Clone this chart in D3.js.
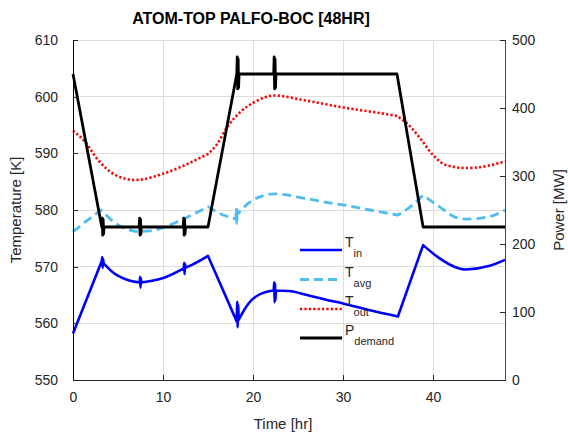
<!DOCTYPE html>
<html>
<head>
<meta charset="utf-8">
<style>
  body { margin: 0; background: #fff; }
  svg text { font-family: "Liberation Sans", Arial, sans-serif; fill: #262626; }
  .grid line { stroke: #dedede; stroke-width: 1; shape-rendering: crispEdges; }
  .axis path { display: none; }
  .axis line { stroke: #262626; shape-rendering: crispEdges; }
  .series { fill: none; }
</style>
</head>
<body>
<svg width="568" height="435"></svg>
<script src="https://d3js.org/d3.v7.min.js"></script>
<script>
// tick values
var timeTicks = [0, 10, 20, 30, 40];
var tempTicks = [550, 560, 570, 580, 590, 600, 610];
var powerTicks = [0, 100, 200, 300, 400, 500];

// each series: list of pieces, [time hr, value]; small zig-zags are the transient spikes
var tInSegments = [
  [[0, 558.2], [3.2, 571.0]],
  [[3.2, 571.0], [3.25, 571.7], [3.3, 569.8], [3.35, 571.4], [3.4, 570.6]],
  [[3.4, 570.6], [4.6, 568.8], [6.0, 567.7], [7.4, 567.2]],
  [[7.4, 567.2], [7.45, 568.2], [7.5, 566.3], [7.55, 568.0], [7.6, 567.2]],
  [[7.6, 567.2], [8.8, 567.5], [10.2, 568.1], [12.3, 569.7]],
  [[12.3, 569.7], [12.35, 570.7], [12.4, 568.7], [12.45, 570.5], [12.5, 569.8]],
  [[12.5, 569.8], [13.8, 570.8], [15.0, 571.9]],
  [[15.0, 571.9], [18.2, 560.3]],
  [[18.2, 560.3], [18.25, 563.8], [18.3, 559.3], [18.35, 563.3], [18.4, 560.6]],
  [[18.4, 560.6], [19.0, 562.3], [19.5, 563.5], [20.6, 565.0], [22.3, 565.8]],
  [[22.3, 565.8], [22.35, 567.3], [22.4, 563.7], [22.45, 567.1], [22.5, 564.0], [22.55, 565.8]],
  [[22.55, 565.8], [24.0, 565.7], [26.0, 565.0], [28.0, 564.2], [30.0, 563.5], [33.0, 562.3], [36.1, 561.2]],
  [[36.1, 561.2], [38.9, 573.8]],
  [[38.9, 573.8], [40.7, 571.5], [42.5, 569.9], [43.6, 569.5], [46.2, 570.1], [48, 571.2]]
];

var tAvgSegments = [
  [[0, 576.2], [3.1, 580.0]],
  [[3.1, 580.0], [4.7, 577.7], [6.0, 576.6], [7.3, 576.2], [8.5, 576.3], [10.2, 577.0], [12.4, 578.5], [15.0, 580.6]],
  [[15.0, 580.6], [16.3, 579.4], [18.1, 578.4]],
  [[18.1, 578.4], [18.15, 580.3], [18.2, 577.6], [18.25, 580.0], [18.3, 579.3]],
  [[18.3, 579.3], [19.5, 581.2], [21.3, 582.6], [22.4, 582.85], [25.8, 582.05], [28.7, 581.2], [30.0, 580.9], [33.0, 580.0], [36.1, 579.1]],
  [[36.1, 579.1], [37.5, 580.6], [38.9, 582.6]],
  [[38.9, 582.6], [40.7, 580.6], [42.5, 578.7], [43.6, 578.4], [46.2, 578.8], [48, 580.0]]
];

var tOutSegments = [
  [[0, 594.0], [1.33, 592.05], [2.8, 588.8], [4.7, 586.2], [6.9, 585.3], [10.2, 586.5], [12.4, 587.9], [15.0, 589.9]],
  [[15.0, 589.9], [16.0, 591.6], [17.0, 594.3], [18.6, 597.3], [20.0, 598.9], [22.4, 600.2], [25.6, 599.4], [30.0, 598.1], [34.1, 597.1], [36.0, 596.6]],
  [[36.0, 596.6], [37.1, 595.3], [38.6, 592.6], [40.0, 589.7], [41.5, 587.9], [43.7, 587.4], [47.8, 588.5], [48, 588.6]]
];

var powerSegments = [
  [[0, 450], [3.2, 225], [3.25, 238], [3.3, 213], [3.35, 236], [3.4, 215], [3.45, 225],
   [7.35, 225], [7.4, 238], [7.45, 213], [7.5, 236], [7.55, 215], [7.6, 225],
   [12.25, 225], [12.3, 238], [12.35, 213], [12.4, 236], [12.45, 215], [12.5, 225],
   [15, 225], [18.2, 450], [18.25, 475], [18.3, 428], [18.35, 472], [18.4, 430], [18.45, 450],
   [22.3, 450], [22.35, 475], [22.4, 428], [22.45, 472], [22.5, 430], [22.55, 450],
   [36, 450], [38.9, 225], [48, 225]]
];

var legendMain = ["T", "T", "T", "P"];
var legendSub = ["in", "avg", "out", "demand"];

var svg = d3.select("svg");

var x = d3.scaleLinear().domain([0, 48]).range([73, 505]);
var yT = d3.scaleLinear().domain([550, 610]).range([380, 40]);
var yP = d3.scaleLinear().domain([0, 500]).range([380, 40]);

// grid
var grid = svg.append("g").attr("class", "grid");
grid.selectAll(".gx").data(timeTicks.filter(function(d) { return d > 0; }))
  .enter().append("line")
  .attr("x1", function(d) { return x(d); }).attr("x2", function(d) { return x(d); })
  .attr("y1", 40).attr("y2", 380);
grid.selectAll(".gy").data(tempTicks.filter(function(d) { return d > 550; }))
  .enter().append("line")
  .attr("x1", 73).attr("x2", 505)
  .attr("y1", function(d) { return yT(d); }).attr("y2", function(d) { return yT(d); });

// series
function joined(segs, y, curve) {
  var line = d3.line()
    .x(function(d) { return x(d[0]); })
    .y(function(d) { return y(d[1]); })
    .curve(curve);
  return segs.map(function(s, i) {
    var p = line(s);
    return i ? p.replace(/^M/, "L") : p;
  }).join("");
}

var styles = [
  {segs: tInSegments, y: yT, curve: d3.curveMonotoneX, color: "#0000ff", width: 2.6, dash: null},
  {segs: tAvgSegments, y: yT, curve: d3.curveMonotoneX, color: "#4dbeee", width: 2.8, dash: "9,5"},
  {segs: tOutSegments, y: yT, curve: d3.curveMonotoneX, color: "#ff0000", width: 2.6, dash: "2.2,2.2"},
  {segs: powerSegments, y: yP, curve: d3.curveLinear, color: "#000000", width: 2.8, dash: null}
];

styles.forEach(function(s) {
  svg.append("path").attr("class", "series")
    .attr("d", joined(s.segs, s.y, s.curve))
    .attr("stroke", s.color)
    .attr("stroke-width", s.width)
    .attr("stroke-dasharray", s.dash)
    .attr("stroke-linejoin", "round");
});

// axes
svg.append("g").attr("class", "axis")
  .attr("transform", "translate(0,380)")
  .call(d3.axisBottom(x).tickValues(timeTicks).tickSize(-5).tickPadding(12))
  .selectAll("text").style("font-size", "14px");
svg.append("g").attr("class", "axis")
  .attr("transform", "translate(73,0)")
  .call(d3.axisLeft(yT).tickValues(tempTicks).tickSize(-5).tickPadding(15))
  .selectAll("text").style("font-size", "14px");
svg.append("g").attr("class", "axis")
  .attr("transform", "translate(505,0)")
  .call(d3.axisRight(yP).tickValues(powerTicks).tickSize(-5).tickPadding(7))
  .selectAll("text").style("font-size", "14px");

svg.append("line").attr("x1", 73).attr("x2", 505).attr("y1", 380.5).attr("y2", 380.5)
  .attr("stroke", "#262626");
svg.append("line").attr("x1", 73.5).attr("x2", 73.5).attr("y1", 40).attr("y2", 380)
  .attr("stroke", "#000");
svg.append("line").attr("x1", 505.5).attr("x2", 505.5).attr("y1", 40).attr("y2", 381)
  .attr("stroke", "#444");

// labels
svg.append("text").attr("x", 251).attr("y", 24).attr("text-anchor", "middle")
  .style("font-size", "16px").style("font-weight", "bold").style("fill", "#000")
  .text("ATOM-TOP PALFO-BOC [48HR]");
svg.append("text").attr("x", 283).attr("y", 429).attr("text-anchor", "middle")
  .style("font-size", "15px").text("Time [hr]");
svg.append("text").attr("transform", "translate(21,210) rotate(-90)").attr("text-anchor", "middle")
  .style("font-size", "15px").text("Temperature [K]");
svg.append("text").attr("transform", "translate(564,210) rotate(-90)").attr("text-anchor", "middle")
  .style("font-size", "15px").text("Power [MW]");

// legend
var legendY = [250, 279.5, 309, 338];
styles.forEach(function(s, i) {
  var g = svg.append("g").attr("transform", "translate(300," + legendY[i] + ")");
  g.append("line").attr("x1", 0).attr("x2", 42).attr("y1", 0).attr("y2", 0)
    .attr("stroke", s.color).attr("stroke-width", s.width)
    .attr("stroke-dasharray", s.dash);
  var t = g.append("text").attr("x", 45).attr("y", -3).style("font-size", "14px");
  t.append("tspan").text(legendMain[i]);
  t.append("tspan").attr("dy", 10).style("font-size", "11px").text(legendSub[i]);
});
</script>
</body>
</html>
